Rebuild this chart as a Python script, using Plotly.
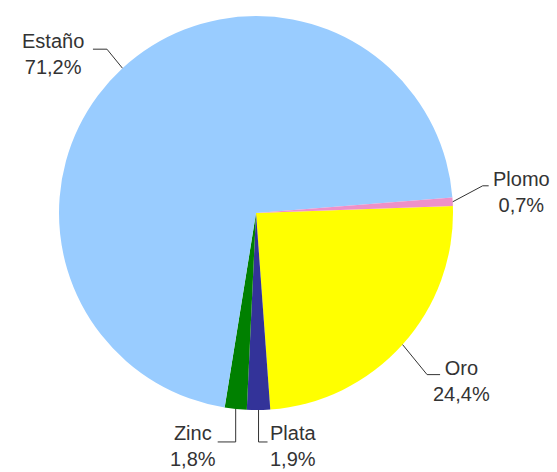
import math
import plotly.graph_objects as go

# ---- data ----
labels = ["Oro", "Plata", "Zinc", "Estaño", "Plomo"]
values = [24.4, 1.9, 1.8, 71.2, 0.7]
pct_text = ["24,4%", "1,9%", "1,8%", "71,2%", "0,7%"]
colors = ["#FFFF00", "#333399", "#008000", "#99CCFF", "#EE90C8"]

# ---- layout / style ----
W, H = 557, 472
CX, CY, R = 256, 213, 197
ROT = 88  # degrees clockwise from 12 o'clock where the first slice starts

# leader style per label: first segment (dx, dy), horizontal segment dx, text-center offset from end
leader_style = {
    "Oro":    ((24.5, 30), 13, (21, 6)),
    "Plata":  ((0, 32), 9, (25, 4)),
    "Zinc":   ((0, 33), -18, (-25, 4)),
    "Estaño": ((-15.5, -19), -14, (-39.5, 5)),
    "Plomo":  ((30, -16), 6, (33, 6)),
}

def px(x):
    return x / W

def py(y):
    return 1 - y / H

fig = go.Figure(go.Pie(
    labels=labels,
    values=values,
    sort=False,
    direction="clockwise",
    rotation=ROT,
    marker=dict(colors=colors, line=dict(width=0)),
    textinfo="none",
    hoverinfo="label+percent",
    showlegend=False,
    domain=dict(x=[px(CX - R), px(CX + R)], y=[py(CY + R), py(CY - R)]),
))

total = sum(values)
shapes = []
annotations = []
angle = ROT
for lab, val, txt in zip(labels, values, pct_text):
    span = val / total * 360
    mid = math.radians(angle + span / 2)
    angle += span
    ax = CX + R * math.sin(mid)
    ay = CY - R * math.cos(mid)
    (d1x, d1y), d2x, (tx, ty) = leader_style[lab]
    ex, ey = ax + d1x, ay + d1y
    fx, fy = ex + d2x, ey
    path = f"M {px(ax)} {py(ay)} L {px(ex)} {py(ey)} L {px(fx)} {py(fy)}"
    shapes.append(dict(type="path", xref="paper", yref="paper", path=path,
                       line=dict(color="#333333", width=1)))
    annotations.append(dict(
        x=px(fx + tx), y=py(fy + ty), xref="paper", yref="paper",
        xanchor="center", yanchor="middle", align="center",
        text=f"{lab}<br>{txt}", showarrow=False,
        font=dict(family="Arial, Liberation Sans, sans-serif", size=20, color="#333333"),
    ))

fig.update_layout(
    width=W, height=H,
    margin=dict(l=0, r=0, t=0, b=0),
    paper_bgcolor="white",
    plot_bgcolor="white",
    shapes=shapes,
    annotations=annotations,
)

fig.write_html(
    "out.html",
    config={"displayModeBar": False},
    post_script="document.body.style.margin='0';document.body.style.overflow='hidden';",
)
